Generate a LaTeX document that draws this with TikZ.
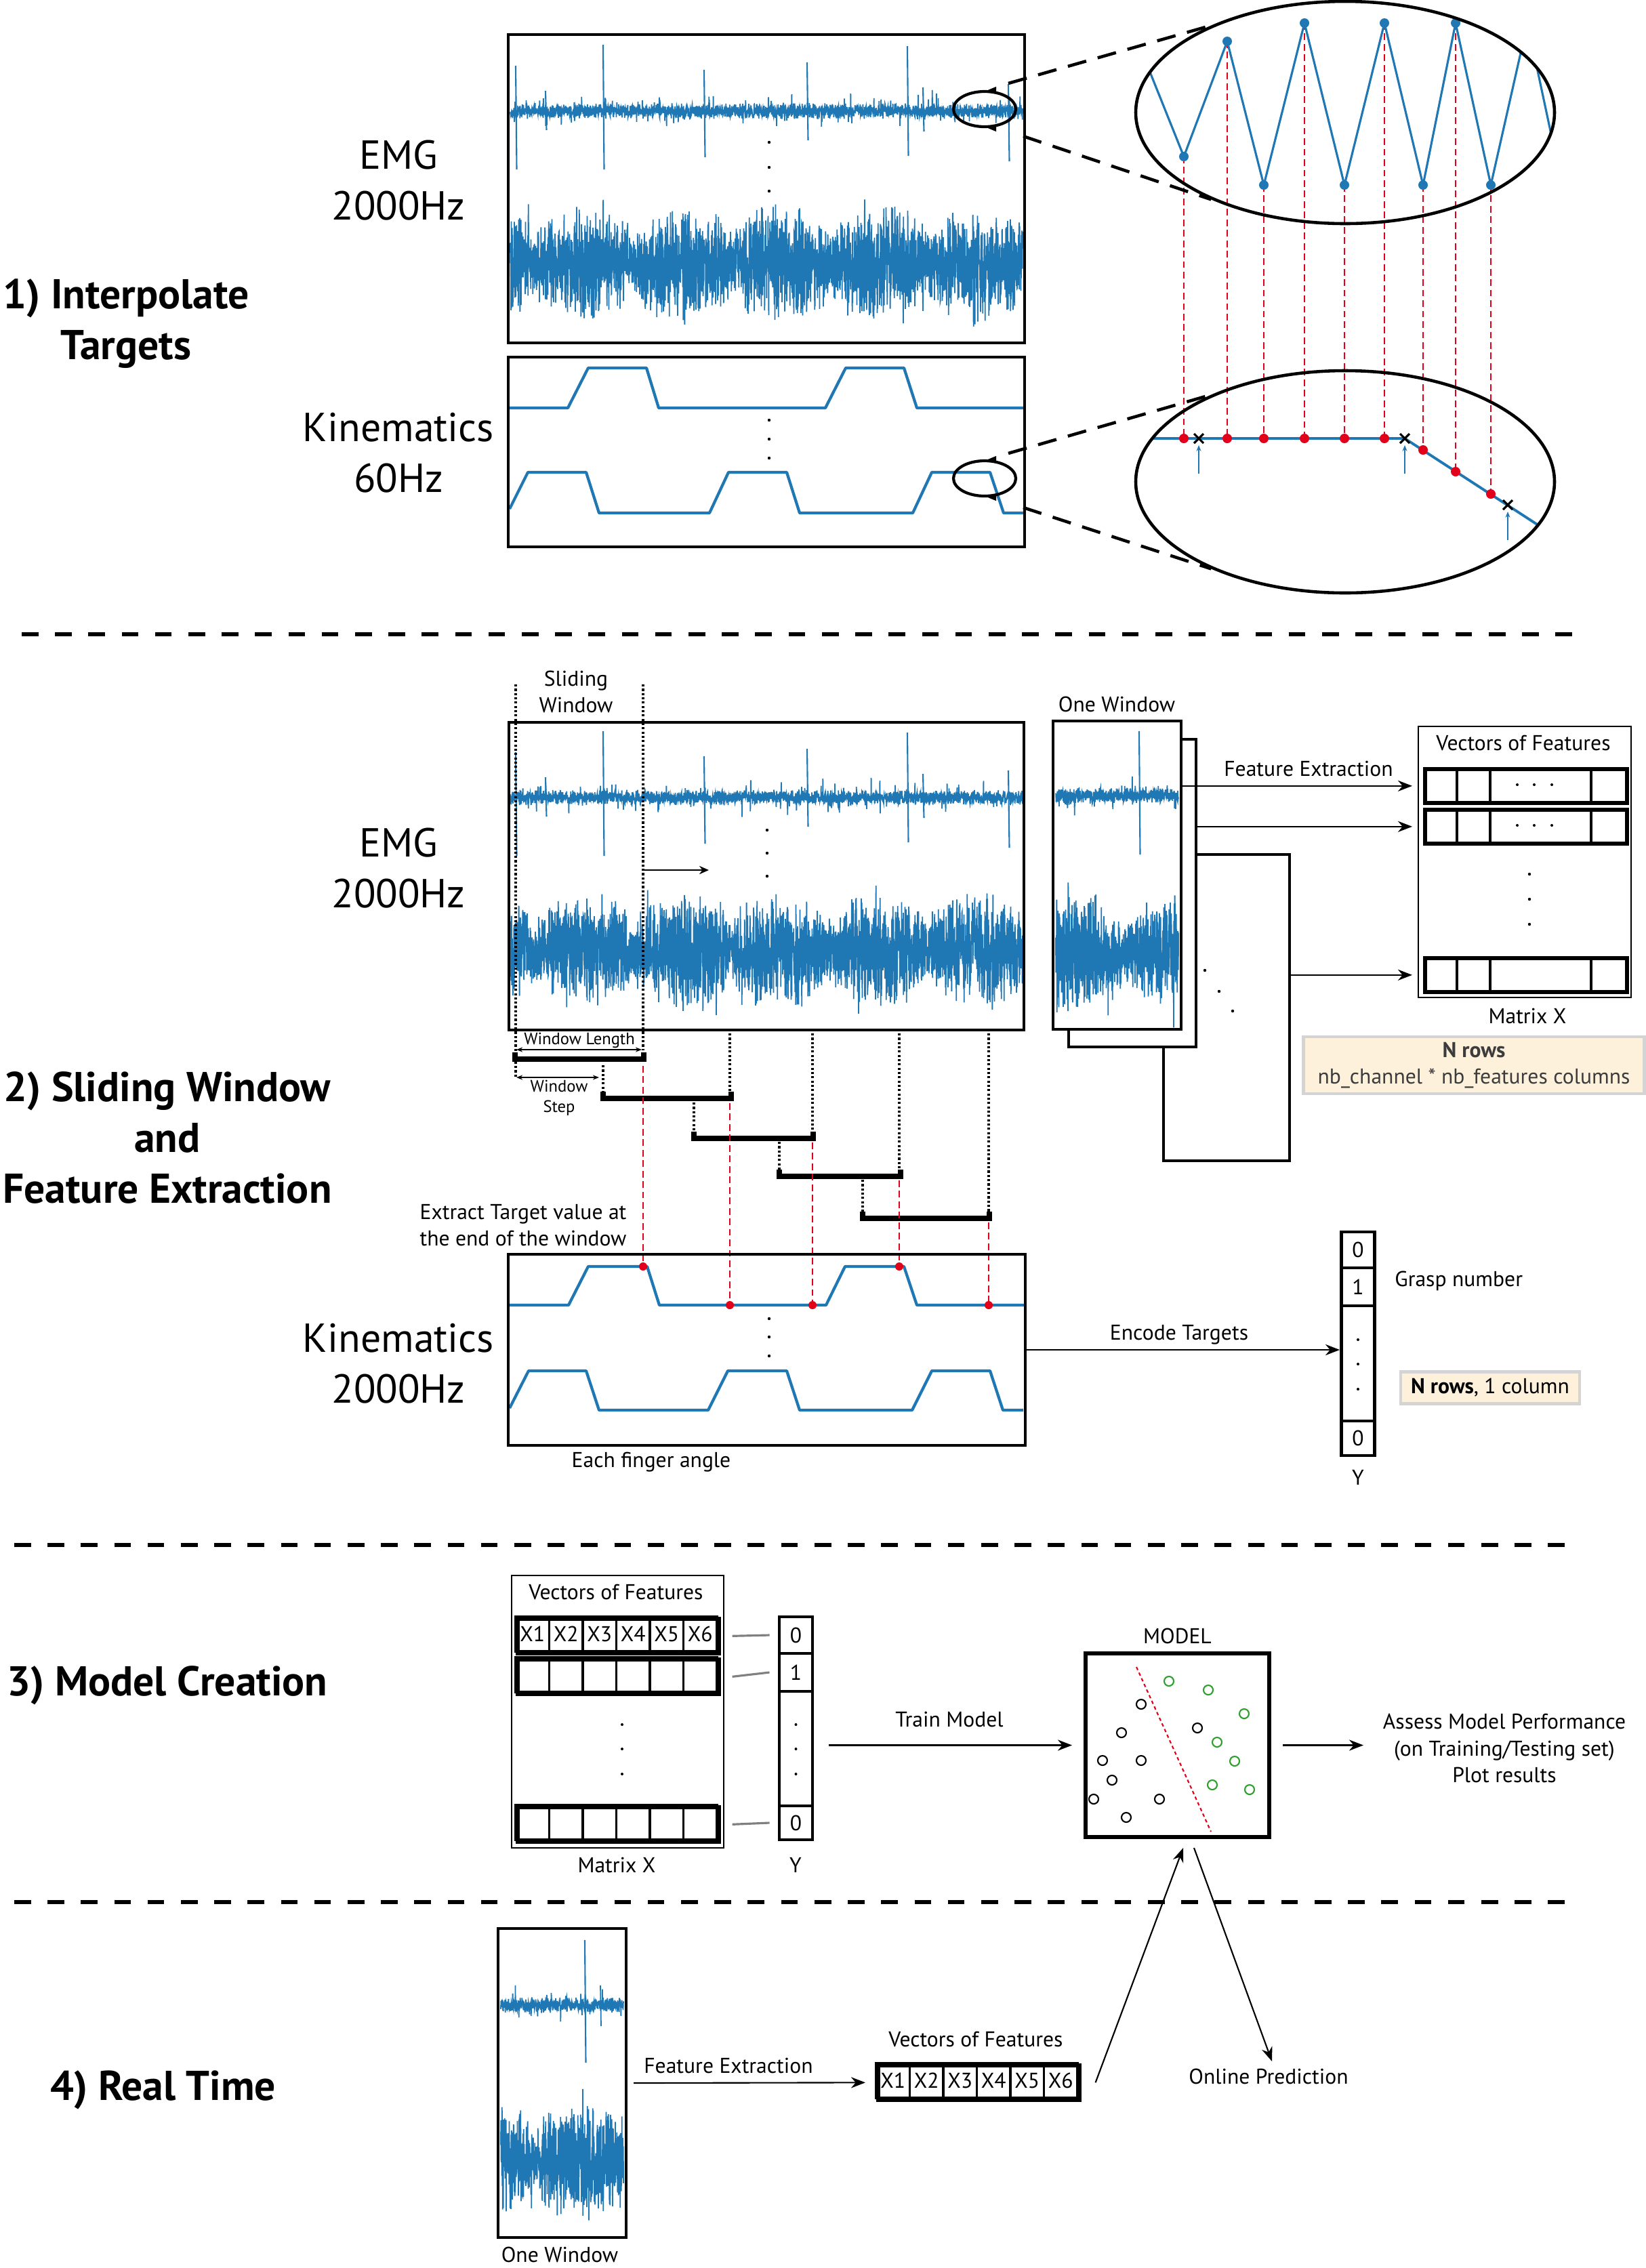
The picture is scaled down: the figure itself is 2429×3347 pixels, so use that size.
\documentclass[tikz,border=0pt]{standalone}
\usepackage{fontspec}
\setmainfont{PT Sans}
\usetikzlibrary{arrows.meta,positioning,calc,shapes.geometric}

\definecolor{sigblue}{HTML}{1F77B4}
\definecolor{tgtred}{HTML}{E2001A}
\definecolor{clsgreen}{HTML}{2CA02C}
\definecolor{notefill}{HTML}{FDF1DC}
\definecolor{noteedge}{HTML}{D4D4D4}
\definecolor{notetext}{HTML}{3C3C3C}

\tikzset{
  bigtxt/.style={font=\fontsize{17}{21.3}\selectfont, align=center},
  headtxt/.style={font=\fontsize{17.5}{21.3}\selectfont\bfseries, align=center},
  midtxt/.style={font=\fontsize{9}{11.2}\selectfont, align=center},
  smltxt/.style={font=\fontsize{7}{8.6}\selectfont, align=center, inner sep=1pt},
  box/.style={draw, line width=1.4pt, inner sep=0pt, outer sep=0pt, anchor=north west},
  matbox/.style={draw, line width=0.7pt, inner sep=0pt, anchor=north west},
  rowbox/.style={draw, line width=1.6pt, inner sep=0pt, anchor=north west},
  xcell/.style={draw, line width=0.9pt, inner sep=0pt, minimum width=4.95mm, font=\fontsize{9}{11}\selectfont},
  ycell/.style={draw, line width=1.4pt, inner sep=0pt, minimum width=4.9mm, font=\fontsize{9}{11}\selectfont},
  notebox/.style={draw=noteedge, line width=1.3pt, fill=notefill, text=notetext, inner sep=0pt, align=center, font=\fontsize{9}{11.2}\selectfont},
  lens/.style={draw, ellipse, line width=1.3pt, inner sep=0pt, minimum width=61.8mm, minimum height=32.8mm},
  mag/.style={draw, ellipse, line width=1.2pt, inner sep=0pt, minimum width=9.2mm, minimum height=5.2mm},
  emgline/.style={sigblue, line width=0.5pt},
  kinline/.style={sigblue, line width=1.2pt, line join=round},
  zigline/.style={sigblue, line width=0.9pt, line join=round},
  sepline/.style={line width=1.5pt, dash pattern=on 7pt off 7pt},
  zoomline/.style={line width=1.3pt, dash pattern=on 8pt off 5pt},
  reddash/.style={tgtred, line width=0.8pt, dash pattern=on 2.8pt off 1.6pt},
  blackdot/.style={line width=1.1pt, dash pattern=on 0.9pt off 0.9pt},
  bracket/.style={line width=2.2pt},
  arr/.style={-{Stealth[length=6pt,width=4.6pt]}, line width=0.6pt},
  thinarr/.style={{Stealth[length=2.6pt,width=2pt]}-{Stealth[length=2.6pt,width=2pt]}, line width=0.35pt},
  graylink/.style={gray, line width=0.9pt},
}

% EMG traces: quiet channel, bursting channel, spikes of the quiet channel
\newcommand{\emgquiet}[4]{%
  \draw[emgline] plot[domain=#1:#2, samples=#4, variable=\t] (\t,{#3+(rand+rand)*6+20*rand*(rnd>0.93)});}
\newcommand{\emgburst}[4]{%
  \draw[emgline] plot[domain=#1:#2, samples=#4, variable=\t] (\t,{#3+(rand+rand)*(20+26*sqrt(abs(sin((\t-790)*1.24))))+32*rand*(rnd>0.9)});}
\newcommand{\emgspikes}[1]{%
  \foreach \sx/\su/\sd in {761/67/86, 805/30/28, 890/98/86, 1039/61/68, 1191/72/43, 1339/96/66, 1362/35/30, 1488/40/74}
    \draw[emgline, line width=0.6pt] (\sx,#1-\su) -- (\sx+1.5,#1+\sd);}

\begin{document}
\begin{tikzpicture}[x=0.1mm, y=-0.1mm]
\pgfmathsetseed{31}
\useasboundingbox (0,0) rectangle (2429,3347);

% ---------- 1) Interpolate Targets ----------
\node[headtxt] (titleA) at (186,478) {1) Interpolate\\Targets};
\node[bigtxt] (emgLblA) at (588,266) {EMG\\2000Hz};
\node[bigtxt] (kinLblA) at (588,668) {Kinematics\\60Hz};

% EMG panel
\emgquiet{753}{1509}{164}{2600}
\emgspikes{164}
\emgburst{753}{1509}{390}{3000}
\node[box, minimum width=76.2mm, minimum height=45.5mm] (emgA) at (750,51) {};
\foreach \y in {210,247,282} \fill (1135,\y) circle[radius=0.22mm];

% Kinematics panel
\draw[kinline] (752,602) -- (838,602) -- (868,543) -- (954,543) -- (972,602) -- (1218,602) -- (1248,543) -- (1334,543) -- (1353,602) -- (1510,602);
\draw[kinline] (752,751) -- (779,697) -- (865,697) -- (884,757) -- (1047,757) -- (1075,697) -- (1161,697) -- (1180,757) -- (1347,757) -- (1375,697) -- (1461,697) -- (1481,757) -- (1510,757);
\node[box, minimum width=76.2mm, minimum height=28mm] (kinA) at (750,527) {};
\foreach \y in {620,648,676} \fill (1135,\y) circle[radius=0.22mm];

% Magnifiers
\node[mag] (magA) at (1453,161) {};
\node[mag] (magB) at (1453,706) {};
\foreach \m in {magA,magB} {
  \fill ($(\m.north)+(5,0)$) -- ++(12,-5) -- ++(0,10) -- cycle;
  \fill ($(\m.south)+(5,0)$) -- ++(12,-5) -- ++(0,10) -- cycle;
}

% Zoom on EMG samples
\foreach \px/\ya/\yb in {1747/231/647, 1811/61/647, 1865/273/647, 1925/34/647, 1984/273/647, 2043/34/647, 2100/273/664, 2148/34/696, 2200/273/729}
  \draw[reddash] (\px,\ya) -- (\px,\yb);
\begin{scope}
  \clip (1985,166) ellipse[x radius=30.9mm, y radius=16.4mm];
  \draw[zigline] (1680,64) -- (1747,231) -- (1811,61) -- (1865,273) -- (1925,34) -- (1984,273) -- (2043,34) -- (2100,273) -- (2148,34) -- (2200,273) -- (2254,34) -- (2305,273);
\end{scope}
\foreach \px/\py in {1747/231, 1811/61, 1865/273, 1925/34, 1984/273, 2043/34, 2100/273, 2148/34, 2200/273}
  \fill[sigblue] (\px,\py) circle[radius=0.7mm];
\node[lens] (lensA) at (1985,166) {};

% Zoom on kinematics samples
\begin{scope}
  \clip (1985,711) ellipse[x radius=30.9mm, y radius=16.4mm];
  \draw[zigline, line width=1.1pt] (1650,647) -- (2073,647) -- (2330,814);
\end{scope}
\foreach \px/\py in {1747/647, 1811/647, 1865/647, 1925/647, 1984/647, 2043/647, 2100/664, 2148/696, 2200/729}
  \fill[tgtred] (\px,\py) circle[radius=0.7mm];
\foreach \px/\py in {1769/647, 2073/647, 2225/745} {
  \draw[line width=0.9pt] (\px-7,\py-7) -- (\px+7,\py+7) (\px-7,\py+7) -- (\px+7,\py-7);
  \draw[sigblue, -{Stealth[length=2.5pt,width=2pt]}, line width=0.35pt] (\px,\py+52) -- (\px,\py+10);
}
\node[lens] (lensB) at (1985,711) {};

% Zoom lines
\coordinate (magAup) at (1488,123);
\coordinate (magAdn) at (1510,201);
\coordinate (magBup) at (1488,669);
\coordinate (magBdn) at (1510,749);
\draw[zoomline] (magAup) -- (lensA.147);
\draw[zoomline] (magAdn) -- (lensA.213);
\draw[zoomline] (magBup) -- (lensB.147);
\draw[zoomline] (magBdn) -- (lensB.213);

\draw[sepline] (32,936) -- (2323,936);

% ---------- 2) Sliding Window and Feature Extraction ----------
\node[headtxt] (titleB) at (247,1679) {2) Sliding Window\\and\\Feature Extraction};
\node[bigtxt] (emgLblB) at (588,1281) {EMG\\2000Hz};
\node[bigtxt] (kinLblB) at (588,2012) {Kinematics\\2000Hz};
\node[midtxt] (slideLbl) at (850,1021) {Sliding\\Window};

% EMG panel
\emgquiet{753}{1509}{1177}{2600}
\emgspikes{1177}
\emgburst{753}{1509}{1403}{3000}
\node[box, minimum width=76mm, minimum height=45.4mm] (emgB) at (751,1066) {};
\foreach \y in {1225,1259,1293} \fill (1132,\y) circle[radius=0.22mm];
\coordinate (slideS) at (949,1284);
\draw[-{Stealth[length=4pt,width=3.5pt]}, line width=0.5pt] (slideS) -- ++(97,0);

% Sliding windows
\draw[blackdot] (761,1010) -- (761,1590);
\draw[blackdot] (949,1010) -- (949,1550);
\foreach \px/\ya/\yb in {890/1572/1612, 1024/1627/1672, 1150/1685/1728, 1273/1741/1790, 1077/1525/1614, 1199/1525/1672, 1327/1525/1728, 1459/1525/1790}
  \draw[blackdot] (\px,\ya) -- (\px,\yb);
\foreach \xa/\xb/\py in {760/950/1563, 890/1079/1621, 1024/1200/1680, 1150/1329/1736, 1273/1460/1798}
  \draw[bracket] (\xa,\py-10) -- (\xa,\py) -- (\xb,\py) -- (\xb,\py-10);
\node[smltxt] (lenLbl) at (855,1535) {Window Length};
\draw[thinarr] (762,1549) -- (947,1549);
\draw[thinarr] (762,1590) -- (884,1590);
\node[smltxt] (stepLbl) at (825,1620) {Window\\Step};
\foreach \px/\ya/\yb in {949/1573/1869, 1077/1628/1926, 1199/1686/1926, 1327/1742/1869, 1459/1804/1926}
  \draw[reddash] (\px,\ya) -- (\px,\yb);

% Kinematics panel
\draw[kinline] (752,1926) -- (839,1926) -- (868,1869) -- (955,1869) -- (973,1926) -- (1219,1926) -- (1247,1869) -- (1334,1869) -- (1353,1926) -- (1511,1926);
\draw[kinline] (752,2078) -- (780,2023) -- (865,2023) -- (884,2081) -- (1045,2081) -- (1074,2023) -- (1161,2023) -- (1180,2081) -- (1346,2081) -- (1375,2023) -- (1461,2023) -- (1480,2081) -- (1510,2081);
\node[box, minimum width=76.3mm, minimum height=28.2mm] (kinC) at (750,1851) {};
\foreach \y in {1946,1973,2001} \fill (1135,\y) circle[radius=0.22mm];
\foreach \px/\py in {949/1869, 1077/1926, 1199/1926, 1327/1869, 1459/1926}
  \fill[tgtred] (\px,\py) circle[radius=0.6mm];
\node[midtxt] (extractLbl) at (772,1808) {Extract Target value at\\the end of the window};
\node[midtxt] (fingerLbl) at (961,2158) {Each finger angle};

% One window stack
\node[box, fill=white, minimum width=18.6mm, minimum height=45.2mm] (winC) at (1717,1261) {};
\node[box, fill=white, minimum width=18.8mm, minimum height=45.4mm] (winB) at (1577,1091) {};
\node[box, fill=white, minimum width=18.9mm, minimum height=45.5mm] (winA) at (1554,1064) {};
\emgquiet{1558}{1739}{1174}{700}
\draw[emgline, line width=0.6pt] (1681,1079) -- (1682.5,1261);
\emgburst{1558}{1739}{1406}{800}
\node[midtxt] (oneLblA) at (1648,1039) {One Window};
\foreach \px/\py in {1778/1432, 1799/1463, 1819/1492} \fill (\px,\py) circle[radius=0.22mm];

% Matrix X
\node[matbox, minimum width=31.4mm, minimum height=40mm] (matA) at (2092,1071) {};
\node[midtxt] (vecLblA) at (2248,1097) {Vectors of Features};
\node[rowbox, minimum width=29.8mm, minimum height=5mm] (rowA1) at (2100,1132) {};
\node[rowbox, minimum width=29.8mm, minimum height=5mm] (rowA2) at (2100,1192) {};
\node[rowbox, minimum width=29.8mm, minimum height=5mm] (rowA3) at (2100,1411) {};
\foreach \ya/\yb in {1132/1182, 1192/1242, 1411/1461}
  \foreach \px in {2150,2199,2348} \draw[line width=1.3pt] (\px,\ya) -- (\px,\yb);
\foreach \py in {1158,1218} \foreach \px in {2239,2264,2290} \fill (\px,\py) circle[radius=0.2mm];
\foreach \py in {1290,1327,1364} \fill (2257,\py) circle[radius=0.22mm];
\node[midtxt] (matLblA) at (2254,1499) {Matrix X};
\draw[arr, shorten >=0.8mm] (winA.east |- rowA1.west) -- (matA.west |- rowA1.west);
\draw[arr, shorten >=0.8mm] (winB.east |- rowA2.west) -- (matA.west |- rowA2.west);
\draw[arr, shorten >=0.8mm] (winC.east |- rowA3.west) -- (matA.west |- rowA3.west);
\node[midtxt] (fxLblA) at (1931,1134) {Feature Extraction};
\node[notebox, minimum width=50.3mm, minimum height=8.4mm] (noteA) at (2175,1572) {\textbf{N rows}\\nb\_channel * nb\_features columns};

% Y vector
\node[ycell, minimum height=5.3mm] (yA1) at (2004,1844.5) {0};
\node[ycell, minimum height=5.6mm] (yA2) at (2004,1899) {1};
\node[ycell, minimum height=17mm] (yA3) at (2004,2012) {};
\node[ycell, minimum height=5.1mm] (yA4) at (2004,2122.5) {0};
\foreach \py in {1977,2013,2050} \fill (2004,\py) circle[radius=0.2mm];
\node[midtxt] (yLblA) at (2004,2180) {Y};
\node[midtxt, anchor=west] (graspLbl) at (2046,1890) {Grasp number};
\node[notebox, text=black, minimum width=26.4mm, minimum height=4.7mm] (noteB) at (2199,2048) {\textbf{N rows}, 1 column};
\draw[arr] (kinC.east) -- (kinC.east -| yA3.west);
\node[midtxt] (encLbl) at (1740,1970) {Encode Targets};

\draw[sepline] (21,2280) -- (2312,2280);

% ---------- 3) Model Creation ----------
\node[headtxt] (titleC) at (247,2487) {3) Model Creation};
\node[matbox, minimum width=31.3mm, minimum height=40.2mm] (matB) at (754,2324) {};
\node[midtxt] (vecLblB) at (909,2349) {Vectors of Features};
\foreach \i in {1,...,6} {
  \node[xcell, minimum height=5.1mm] (xB\i) at ({736.25+49.5*\i},2411.5) {X\i};
  \node[xcell, minimum height=5.1mm] (xC\i) at ({736.25+49.5*\i},2471.5) {};
  \node[xcell, minimum height=5.1mm] (xD\i) at ({736.25+49.5*\i},2689.5) {};
}
\node[rowbox, minimum width=29.7mm, minimum height=5.1mm] (rowB1) at (761,2386) {};
\node[rowbox, minimum width=29.7mm, minimum height=5.1mm] (rowB2) at (761,2446) {};
\node[rowbox, minimum width=29.7mm, minimum height=5.1mm] (rowB3) at (761,2664) {};
\foreach \py in {2545,2581,2618} \fill (918,\py) circle[radius=0.2mm];
\node[midtxt] (matLblB) at (910,2752) {Matrix X};

\node[ycell, minimum height=5.4mm] (yB1) at (1174.5,2413) {0};
\node[ycell, minimum height=5.6mm] (yB2) at (1174.5,2468) {1};
\node[ycell, minimum height=16.9mm] (yB3) at (1174.5,2580.5) {};
\node[ycell, minimum height=5mm] (yB4) at (1174.5,2690) {0};
\foreach \py in {2545,2581,2618} \fill (1174.5,\py) circle[radius=0.2mm];
\node[midtxt] (yLblB) at (1174,2752) {Y};
\draw[graylink] ([xshift=1.7mm]rowB1.east) -- ([xshift=-1.2mm]yB1.west);
\draw[graylink] ([xshift=1.7mm]rowB2.east) -- ([xshift=-1.2mm]yB2.west);
\draw[graylink] ([xshift=1.7mm]rowB3.east) -- ([xshift=-1.2mm]yB4.west);

% Model
\node[box, anchor=center, line width=1.6pt, minimum width=27.1mm, minimum height=27.1mm] (model) at (1737.5,2575.5) {};
\node[midtxt, above=0.2mm of model] (modelLbl) {MODEL};
\draw[tgtred, line width=0.6pt, dash pattern=on 1.4pt off 1.2pt] (1677,2460) -- (1787,2703);
\foreach \px/\py in {1684/2515, 1655/2557, 1627/2598, 1684/2598, 1641/2627, 1614/2655, 1711/2655, 1662/2682, 1767/2550}
  \draw[line width=0.6pt] (\px,\py) circle[radius=0.7mm];
\foreach \px/\py in {1725/2481, 1783/2494, 1836/2529, 1796/2571, 1822/2599, 1789/2634, 1844/2641}
  \draw[clsgreen, line width=0.6pt] (\px,\py) circle[radius=0.7mm];
\path (yB3.east |- model.west) coordinate (trainS);
\draw[arr] ([xshift=2.2mm]trainS) -- ([xshift=-2mm]model.west);
\node[midtxt] (trainLbl) at (1401,2537) {Train Model};
\draw[arr] ([xshift=2mm]model.east) -- ++(119,0);
\node[midtxt] (assessLbl) at (2220,2580) {Assess Model Performance\\(on Training/Testing set)\\Plot results};

\draw[sepline] (21,2807) -- (2312,2807);

% ---------- 4) Real Time ----------
\node[headtxt] (titleD) at (241,3084) {4) Real Time};
\node[box, minimum width=18.9mm, minimum height=45.6mm] (winR) at (735,2846) {};
\emgquiet{739}{920}{2959}{700}
\draw[emgline, line width=0.6pt] (863,2863) -- (864.5,3044);
\draw[emgline, line width=0.5pt] (886,2930) -- (887,2990);
\emgburst{739}{920}{3187}{800}
\node[midtxt] (oneLblR) at (826,3327) {One Window};
\node[rowbox, minimum width=29.7mm, minimum height=5.1mm] (vecR) at (1293,3045) {};
\foreach \i in {1,...,6}
  \node[xcell, minimum height=5.1mm] (xR\i) at ({1268.25+49.5*\i},3070.5) {X\i};
\node[rowbox, minimum width=29.7mm, minimum height=5.1mm] at (1293,3045) {};
\node[midtxt] (vecLblR) at (1440,3009) {Vectors of Features};
\draw[arr] ([xshift=1.1mm]winR.east) -- ([xshift=-1.6mm]vecR.west);
\node[midtxt] (fxLblR) at (1075,3048) {Feature Extraction};
\draw[arr] ([xshift=2.1mm]vecR.east) -- ([xshift=0.85mm, yshift=-1.6mm]model.south);
\coordinate (predEnd) at (1877,3042);
\draw[arr] ([xshift=2.45mm, yshift=-1.6mm]model.south) -- (predEnd);
\node[midtxt] (onlineLbl) at (1872,3064) {Online Prediction};

\end{tikzpicture}
\end{document}
